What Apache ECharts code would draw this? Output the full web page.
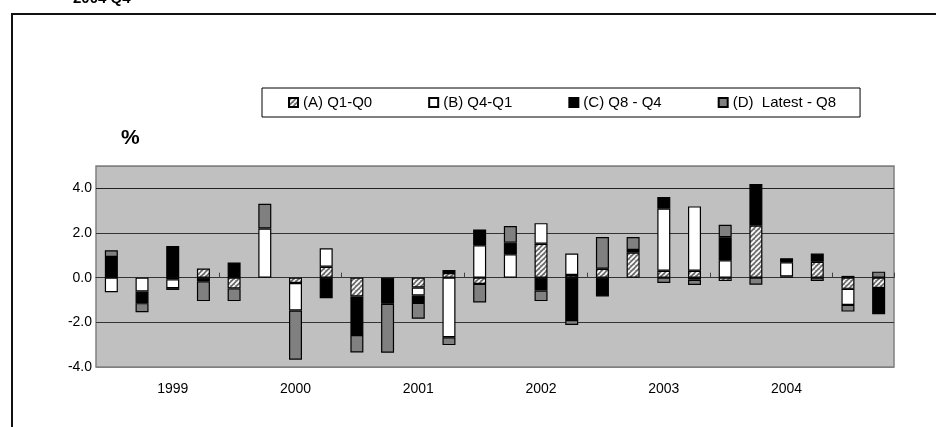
<!DOCTYPE html>
<html>
<head>
<meta charset="utf-8">
<script src="https://cdn.jsdelivr.net/npm/echarts@6/dist/echarts.min.js"></script>
<style>
  html, body { margin: 0; padding: 0; background: #fff; }
  #chart { width: 936px; height: 427px; }
</style>
</head>
<body>
<div id="chart"></div>
<script>
// Quarterly periods shown along the category axis (26 bars)
const periods = [
  '1999Q1','1999Q2','1999Q3','1999Q4',
  '2000Q1','2000Q2','2000Q3','2000Q4',
  '2001Q1','2001Q2','2001Q3','2001Q4',
  '2002Q1','2002Q2','2002Q3','2002Q4',
  '2003Q1','2003Q2','2003Q3','2003Q4',
  '2004Q1','2004Q2','2004Q3','2004Q4',
  '2005Q1','2005Q2'
];
// Year captions and the bar index each one sits under
const yearLabels = ['1999', '2000', '2001', '2002', '2003', '2004'];
const yearLabelIndex = [2, 6, 10, 14, 18, 22];

// Revision components, percentage points
const seriesNames = ['(A) Q1-Q0', '(B) Q4-Q1', '(C) Q8 - Q4', '(D)  Latest - Q8'];
const revA = [0, 0, -0.07, 0.41, -0.48, 0, -0.24, 0.49, -0.84, 0, -0.44, 0.21, -0.28, 0, 1.52, 0.12, 0.40, 1.12, 0.31, 0.31, -0.15, 2.33, 0.06, 0.71, -0.50, -0.46];
const revB = [-0.65, -0.62, -0.40, 0, 0, 2.20, -1.23, 0.83, 0, 0, -0.36, -2.67, 1.45, 1.05, 0.92, 0.96, 0, 0, 2.78, 2.88, 0.78, 0, 0.63, 0, -0.72, 0];
const revC = [0.93, -0.52, 1.42, -0.16, 0.68, 0, 0, -0.92, -1.73, -1.17, -0.33, 0.13, 0.71, 0.52, -0.58, -1.90, -0.84, 0.12, 0.52, -0.09, 1.03, 1.86, 0.18, 0.37, 0.08, -1.18];
const revD = [0.30, -0.41, -0.08, -0.89, -0.57, 1.11, -2.20, 0, -0.78, -2.19, -0.71, -0.35, -0.83, 0.74, -0.47, -0.22, 1.42, 0.58, -0.24, -0.24, 0.56, -0.32, 0, -0.15, -0.30, 0.27];

const FONT = "'Liberation Sans', Arial, sans-serif";

// Diagonal hatch tile for series A
function hatchPattern() {
  const n = 5;
  const c = document.createElement('canvas');
  c.width = n; c.height = n;
  const g = c.getContext('2d');
  g.fillStyle = '#6e6e6e';
  g.fillRect(0, 0, n, n);
  g.strokeStyle = '#ffffff';
  g.lineWidth = 1.7;
  for (let k = -1; k <= 1; k++) {
    g.beginPath();
    g.moveTo(k * n, n);
    g.lineTo(k * n + n, 0);
    g.stroke();
  }
  return { image: c, repeat: 'repeat' };
}

const fills = [hatchPattern(), '#ffffff', '#000000', '#808080'];
const values = [revA, revB, revC, revD];

const chart = echarts.init(document.getElementById('chart'), null, { renderer: 'canvas' });

const series = seriesNames.map((name, i) => ({
  name: name,
  type: 'bar',
  stack: 'rev',
  barWidth: 13,
  xAxisIndex: 0,
  data: values[i].map(v => (v === 0 ? '-' : v)),
  itemStyle: { color: fills[i], borderColor: '#000', borderWidth: 1.2 },
  emphasis: { disabled: true }
}));

chart.setOption({
  animation: false,
  backgroundColor: '#ffffff',
  textStyle: { fontFamily: FONT },
  grid: {
    left: 96, right: 42, top: 166, bottom: 60,
    show: true,
    backgroundColor: '#c0c0c0',
    borderColor: '#808080',
    borderWidth: 1.5
  },
  legend: {
    left: 262, top: 88,
    orient: 'horizontal',
    padding: [7, 24, 7, 26],
    itemGap: 56,
    itemWidth: 9, itemHeight: 9,
    icon: 'rect',
    backgroundColor: '#ffffff',
    borderColor: '#000',
    borderWidth: 1,
    borderRadius: 0,
    textStyle: { fontFamily: FONT, fontSize: 15, color: '#000' },
    data: seriesNames
  },
  xAxis: [
    {
      type: 'category',
      data: periods,
      position: 'bottom',
      axisLine: { show: false, onZero: false },
      axisTick: { show: false },
      axisLabel: {
        interval: 0,
        margin: 15,
        fontSize: 14,
        color: '#000',
        fontFamily: FONT,
        formatter: (val, idx) => {
          const k = yearLabelIndex.indexOf(idx);
          return k >= 0 ? yearLabels[k] : '';
        }
      },
      splitLine: { show: false }
    },
    {
      type: 'category',
      data: periods,
      position: 'top',
      axisLine: { show: true, onZero: true, lineStyle: { color: '#333', width: 1 } },
      axisTick: {
        show: true,
        inside: false,
        length: 5,
        interval: (idx) => idx > 0 && idx % 4 === 0,
        lineStyle: { color: '#444', width: 1 }
      },
      axisLabel: { show: false },
      splitLine: { show: false }
    }
  ],
  yAxis: {
    type: 'value',
    min: -4, max: 5, interval: 2,
    axisLine: { show: false },
    axisTick: { show: false },
    axisLabel: {
      showMaxLabel: false,
      margin: 4,
      fontSize: 14,
      color: '#000',
      fontFamily: FONT,
      formatter: v => v.toFixed(1)
    },
    splitLine: {
      show: true,
      lineStyle: { color: ['#808080', '#333', '#333', '#333', '#222', '#808080'], width: 1 }
    }
  },
  series: series,
  graphic: [
    {
      type: 'rect',
      shape: { x: 12, y: 14, width: 1000, height: 500 },
      style: { fill: 'none', stroke: '#111', lineWidth: 2 },
      silent: true, z: 100
    },
    {
      type: 'text',
      x: 73, y: 6,
      style: { text: '2004 Q4', font: 'bold 15px ' + FONT, fill: '#000', verticalAlign: 'bottom' },
      silent: true
    },
    {
      type: 'text',
      x: 121, y: 128,
      style: { text: '%', font: 'bold 21px ' + FONT, fill: '#000' },
      silent: true
    }
  ]
});
</script>
</body>
</html>
